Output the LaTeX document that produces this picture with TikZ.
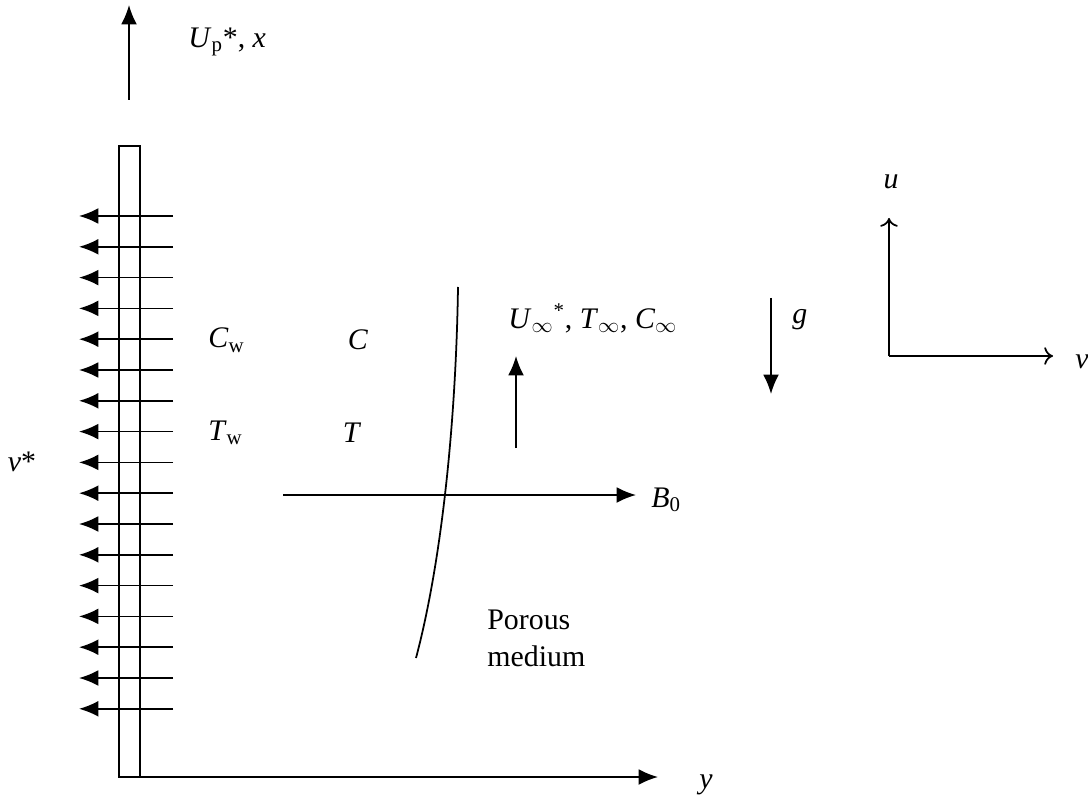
\documentclass[tikz,border=0pt]{standalone}
\usepackage{fontspec}
\setmainfont{Liberation Serif}
\usetikzlibrary{arrows.meta}
\tikzset{
  lbl/.style={font=\fontsize{17}{21}\selectfont,inner sep=0pt},
  arr/.style={-{Latex[length=11pt,width=9pt]},line width=1pt},
  ax/.style={-{To[length=5pt,width=10pt]},line width=1pt},
  plt/.style={draw,line width=1pt},
}

\begin{document}
\begin{tikzpicture}[x=0.02cm,y=-0.02cm]
  \useasboundingbox (0,0) rectangle (1088,800);
  % plate and y axis
  \draw[plt] (119,146) rectangle (140,777);
  \coordinate (o) at (119,777); \coordinate (yend) at (658,777);
  \draw[arr] (o) -- (yend);
  \node[lbl] (ylab) at (706,785) {\textit{y}};
  % plate velocity
  \coordinate (xs) at (129,100); \coordinate (xe) at (129,5);
  \draw[arr] (xs) -- (xe);
  \node[lbl,anchor=west] (up) at (188,42) {\textit{U}\textsubscript{p}*, \textit{x}};
  % suction
  \foreach \i in {0,...,16} {
    \coordinate (s\i) at (173,{216+30.8*\i});
    \coordinate (e\i) at (79,{216+30.8*\i});
    \draw[arr] (s\i) -- (e\i);
  }
  \node[lbl] (vs) at (22,462) {\textit{v}*};
  \node[lbl,anchor=west] (cw) at (208,340) {\textit{C}\textsubscript{w}};
  \node[lbl] (c) at (358,340) {\textit{C}};
  \node[lbl,anchor=west] (tw) at (208,433) {\textit{T}\textsubscript{w}};
  \node[lbl] (t) at (352,433) {\textit{T}};
  % boundary layer edge
  \coordinate (pt) at (458,287); \coordinate (pb) at (416,658);
  \draw[line width=1pt] (pt) .. controls (456,420) and (442,560) .. (pb);
  \node[lbl,anchor=west,align=left] (por) at (487,638) {Porous\\medium};
  % magnetic field
  \coordinate (bs) at (283,495); \coordinate (be) at (636,495);
  \draw[arr] (bs) -- (be);
  \node[lbl,anchor=west] (b0) at (651,500) {\textit{B}\textsubscript{0}};
  % free stream
  \coordinate (fs) at (516,448); \coordinate (fe) at (516,356);
  \draw[arr] (fs) -- (fe);
  \node[lbl,anchor=west] (inf) at (508,318) {\textit{U}\textsubscript{$\infty$}\textsuperscript{*}, \textit{T}\textsubscript{$\infty$}, \textit{C}\textsubscript{$\infty$}};
  % gravity
  \coordinate (gs) at (771,298); \coordinate (ge) at (771,394);
  \draw[arr] (gs) -- (ge);
  \node[lbl,anchor=west] (g) at (792,320) {\textit{g}};
  % u-v axes
  \coordinate (uv) at (889,356); \coordinate (ue) at (889,218); \coordinate (ve) at (1053,356);
  \draw[ax] (uv) -- (ue);
  \draw[ax] (uv) -- (ve);
  \node[lbl] (ul) at (891,182) {\textit{u}};
  \node[lbl] (vl) at (1082,362) {\textit{v}};
\end{tikzpicture}
\end{document}
